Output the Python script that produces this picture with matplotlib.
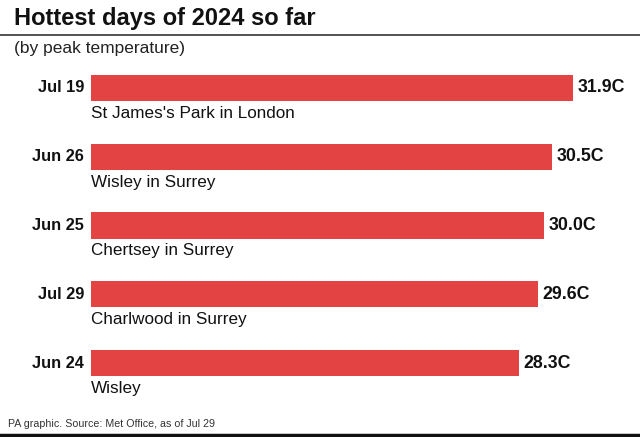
import matplotlib
matplotlib.use("Agg")
import matplotlib.pyplot as plt
from matplotlib.lines import Line2D

# data
dates = ["Jul 19", "Jun 26", "Jun 25", "Jul 29", "Jun 24"]
places = ["St James's Park in London", "Wisley in Surrey", "Chertsey in Surrey",
          "Charlwood in Surrey", "Wisley"]
temps = [31.9, 30.5, 30.0, 29.6, 28.3]

plt.rcParams["font.family"] = ["Liberation Sans", "DejaVu Sans"]

W, H = 640, 437
fig = plt.figure(figsize=(W / 100, H / 100), dpi=100)

# axes: left edge at x=91px, top at 60px, bottom at 400px
ax_top, ax_bot = 60, 400
ax = fig.add_axes([91 / W, 1 - ax_bot / H, (W - 91) / W, (ax_bot - ax_top) / H])
px_per_unit = 15.11
ax.set_xlim(0, (W - 91) / px_per_unit)
row = 68.75
y0 = -(88 - ax_top) / row
ax.set_ylim(y0 + (ax_bot - ax_top) / row, y0)
ax.axis("off")

ypos = list(range(len(temps)))
ax.barh(ypos, temps, height=0.38, color="#e34443")

for y, d, p, t in zip(ypos, dates, places, temps):
    ax.text(-0.45, y, d, ha="right", va="center", fontsize=11.8, fontweight="bold",
            color="#111111")
    ax.text(t + 0.3, y, f"{t:.1f}C", ha="left", va="center", fontsize=12.8,
            fontweight="bold", color="#111111")
    ax.text(0, y + 0.37, p, ha="left", va="center", fontsize=12.3, color="#111111")

# titles and footer
fig.text(14 / W, 1 - 18 / H, "Hottest days of 2024 so far", ha="left", va="center",
         fontsize=17, fontweight="bold", color="#111111")
fig.add_artist(Line2D([0, 1], [1 - 35 / H] * 2, color="#444444", lw=1.3))
fig.text(14 / W, 1 - 48 / H, "(by peak temperature)", ha="left", va="center",
         fontsize=12.5, color="#222222")
fig.text(8 / W, 1 - 424 / H, "PA graphic. Source: Met Office, as of Jul 29",
         ha="left", va="center", fontsize=7.7, color="#333333")
fig.add_artist(Line2D([0, 1], [1 - 434.5 / H] * 2, color="#111111", lw=2.5))

fig.savefig("out.png", dpi=100)
